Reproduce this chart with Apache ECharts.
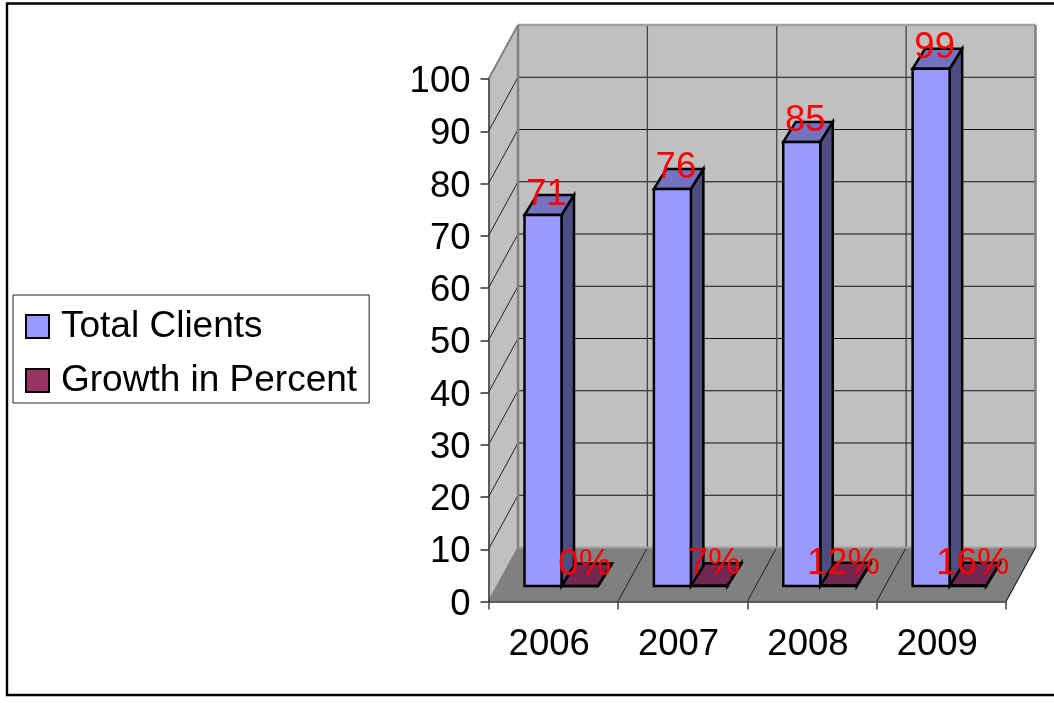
<!DOCTYPE html>
<html><head><meta charset="utf-8">
<style>html,body{margin:0;padding:0;background:#fff}#c{width:1054px;height:703px}</style>
<script src="https://cdn.jsdelivr.net/npm/echarts@6/dist/echarts.min.js"></script>
</head><body><div id="c"></div>
<script>
var categories = ['2006','2007','2008','2009'];
var totalClients = [71,76,85,99];
var growthPercent = [0,7,12,16];
var valueTicks = [0,10,20,30,40,50,60,70,80,90,100];

var FONT = 'Liberation Sans';
var FS = 36.5;
var WALL_D = [29.5,-54];      // depth of the 3D box
var BASE_D = [8.5,-15.5];     // offset of the bars inside the box
var LEFT_IN = 27.5, W1 = 37, W2 = 36.5;
var D1 = [12.5,-20], D2 = [14,-22.5];

function poly(pts, fill, stroke, lw){
  return {type:'polygon',shape:{points:pts},style:{fill:fill,stroke:stroke||null,lineWidth:lw||0,lineJoin:'miter'}};
}
function line(a,b,c,lw){
  return {type:'line',shape:{x1:a[0],y1:a[1],x2:b[0],y2:b[1]},style:{stroke:c,lineWidth:lw,fill:null}};
}
function add(p,d){return [p[0]+d[0],p[1]+d[1]];}

function box(x0,x1,yBase,yTop,d,front,top,side){
  var A=[x0,yTop],B=[x1,yTop],C=[x1,yBase],E=[x0,yBase];
  var lw=2.5, s='#000';
  return [
    poly([B,C,add(C,d),add(B,d)],side,s,lw),
    poly([A,B,add(B,d),add(A,d)],top,s,lw),
    poly([A,B,C,E],front,s,lw)
  ];
}

function bandLeft(api,i){
  return api.coord([i,0])[0]-api.size([1,0])[0]/2;
}

var wallsItem = function(params,api){
  var band=api.size([1,0])[0];
  var n=categories.length;
  var x0=bandLeft(api,0), x1=x0+band*n;
  var y0=api.coord([0,0])[1], y100=api.coord([0,100])[1];
  var fl=[x0,y0], fr=[x1,y0], tl=[x0,y100], tr=[x1,y100];
  var ch=[
    poly([add(tl,WALL_D),add(tr,WALL_D),add(fr,WALL_D),add(fl,WALL_D)],'#c0c0c0'),
    poly([tl,add(tl,WALL_D),add(fl,WALL_D),fl],'#c0c0c0'),
    poly([fl,fr,add(fr,WALL_D),add(fl,WALL_D)],'#808080')
  ];
  valueTicks.forEach(function(v){
    var y=api.coord([0,v])[1];
    var a=[x0,y], b=[x1,y];
    if(v>0 && v<100){
      ch.push(line(add(a,WALL_D),add(b,WALL_D),'#111',1.1));
      ch.push(line(a,add(a,WALL_D),'#222',1));
    }
  });
  for(var i=1;i<n;i++){
    var x=x0+band*i;
    ch.push(line(add([x,y100],WALL_D),add([x,y0],WALL_D),'#444',1.3));
    ch.push(line([x,y0],add([x,y0],WALL_D),'#222',1));
  }
  ch.push(line(add(fl,WALL_D),add(fr,WALL_D),'#a0a0a0',2));
  ch.push(line(add(tl,WALL_D),add(tr,WALL_D),'#a0a0a0',2.5));
  ch.push(line(add(tl,WALL_D),add(fl,WALL_D),'#808080',2.5));
  ch.push(line(add(tr,WALL_D),add(fr,WALL_D),'#808080',2.5));
  ch.push(line(tl,add(tl,WALL_D),'#808080',2));
  ch.push(line(fl,add(fl,WALL_D),'#808080',1.5));
  ch.push(line(fr,add(fr,WALL_D),'#222',1.2));
  return {type:'group',children:ch};
};

var totalItem = function(params,api){
  var i=api.value(0), v=api.value(1);
  var x=bandLeft(api,i)+LEFT_IN+BASE_D[0];
  var yb=api.coord([i,0])[1]+BASE_D[1];
  var yt=api.coord([i,v])[1]+BASE_D[1];
  return {type:'group',children:box(x,x+W1,yb,yt,D1,'#9999ff','#7373bf','#4d4d80')};
};
var growthItem = function(params,api){
  var i=api.value(0), v=api.value(1)/100;
  var x=bandLeft(api,i)+LEFT_IN+BASE_D[0]+W1;
  var yb=api.coord([i,0])[1]+BASE_D[1];
  var yt=api.coord([i,v])[1]+BASE_D[1];
  return {type:'group',children:box(x,x+W2,yb,yt,D2,'#993366','#732650','#4d1a33')};
};
function textEl(x,y,t){
  return {type:'text',x:x,y:y,style:{text:t,fill:'#ff0000',font:FS+'px "'+FONT+'"',align:'center',verticalAlign:'middle'}};
}
var totalLabel = function(params,api){
  var i=api.value(0), v=api.value(1);
  var x=bandLeft(api,i)+LEFT_IN+BASE_D[0]+W1/2+3.5;
  var y=api.coord([i,v])[1]+BASE_D[1]+D1[1]-0.5;
  return textEl(x,y,String(v));
};
var growthLabel = function(params,api){
  var i=api.value(0), v=api.value(1);
  var x=bandLeft(api,i)+LEFT_IN+BASE_D[0]+W1+W2/2+5;
  var y=api.coord([i,v/100])[1]+BASE_D[1]+D2[1]+1;
  return textEl(x,y,v+'%');
};
function pairs(arr){return arr.map(function(v,i){return [i,v];});}

var chart=echarts.init(document.getElementById('c'),null,{renderer:'canvas'});
chart.setOption({
  animation:false,
  backgroundColor:'#fff',
  textStyle:{fontFamily:FONT},
  graphic:[{type:'rect',z:-1,shape:{x:7,y:3.5,width:1070,height:691.5},style:{fill:'#fff',stroke:'#000',lineWidth:2.4}}],
  legend:{
    show:true,left:13,top:295,orient:'vertical',
    data:['Total Clients','Growth in Percent'],
    backgroundColor:'#fff',borderColor:'#222',borderWidth:1,borderRadius:0,
    padding:[13,12,4,12],itemGap:17,itemWidth:23,itemHeight:23,
    icon:'rect',
    textStyle:{fontFamily:FONT,fontSize:37,color:'#000',padding:[0,0,0,7]},
    itemStyle:{borderColor:'#000',borderWidth:2}
  },
  grid:{left:488.5,top:79,width:517.5,height:522.5,containLabel:false},
  xAxis:{type:'category',data:categories,boundaryGap:true,z:4,
    axisLine:{show:true,lineStyle:{color:'#333',width:1.5}},
    axisTick:{show:true,alignWithLabel:false,length:8,lineStyle:{color:'#444',width:1.5}},
    axisLabel:{fontFamily:FONT,fontSize:FS,color:'#000',margin:25,padding:[0,8,0,0]},
    splitLine:{show:false}},
  yAxis:{type:'value',min:0,max:100,interval:10,z:4,
    axisLine:{show:true,lineStyle:{color:'#333',width:1.5}},
    axisTick:{show:true,length:8,lineStyle:{color:'#333',width:1.5}},
    axisLabel:{color:'#000',margin:18,formatter:'{a|{value}}',
      rich:{a:{fontFamily:FONT,fontSize:FS,color:'#000',padding:[6,0,0,0]}}},
    splitLine:{show:false}},
  series:[
    {type:'custom',name:'walls',z:1,silent:true,renderItem:wallsItem,data:[[0,0]],encode:{x:0,y:1}},
    {type:'custom',name:'Growth in Percent',z:2,renderItem:growthItem,data:pairs(growthPercent),encode:{x:0,y:1},
     itemStyle:{color:'#993366'}},
    {type:'custom',name:'Total Clients',z:3,renderItem:totalItem,data:pairs(totalClients),encode:{x:0,y:1},
     itemStyle:{color:'#9999ff'}},
    {type:'custom',name:'totalLabels',z:6,silent:true,renderItem:totalLabel,data:pairs(totalClients),encode:{x:0,y:1}},
    {type:'custom',name:'growthLabels',z:6,silent:true,renderItem:growthLabel,data:pairs(growthPercent),encode:{x:0,y:1}}
  ]
});
</script></body></html>
